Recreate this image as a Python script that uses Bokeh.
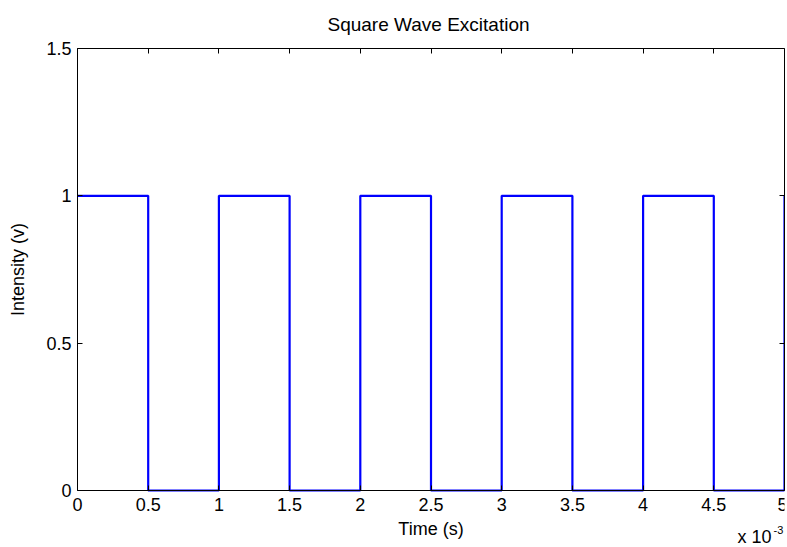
from bokeh.plotting import figure
from bokeh.models import (LinearAxis, FixedTicker, CustomJSTickFormatter, Label, Range1d)
from bokeh.embed import file_html
from bokeh.resources import INLINE

# Data
edge_times_s = [0.0, 0.0005, 0.0010, 0.0015, 0.0020, 0.0025, 0.0030, 0.0035, 0.0040, 0.0045, 0.0050]
intensity_v = [1, 0, 1, 0, 1, 0, 1, 0, 1, 0, 1]
x_ticks = [0.0, 0.0005, 0.0010, 0.0015, 0.0020, 0.0025, 0.0030, 0.0035, 0.0040, 0.0045, 0.0050]
y_ticks = [0, 0.5, 1, 1.5]
title_text = "Square Wave Excitation"
x_label = "Time (s)"
y_label = "Intensity (v)"
x_scale_base = "x 10"
x_scale_power = "-3"

FONT = "Liberation Sans"
FS = "18px"

# layout (pixels)
W, H = 787, 547
FRAME_TOP, RIGHT = 36, 3
AX_TOP = 48                   # pixel row of intensity 1.5
AX_LEFT, AX_RIGHT = 77, 784   # pixel columns of t = 0 and t = 5 ms
ZERO_Y = 490                  # pixel row of intensity 0

x0, x1 = edge_times_s[0], edge_times_s[-1]
px_per_s = (AX_RIGHT - AX_LEFT) / (x1 - x0)
x_start = x0 - AX_LEFT / px_per_s
y0, y1 = y_ticks[0], y_ticks[-1]
px_per_v = (ZERO_Y - AX_TOP) / (y1 - y0)
y_start = y0 - (H - ZERO_Y) / px_per_v
y_end = y1 + (AX_TOP - FRAME_TOP) / px_per_v

p = figure(width=W, height=H, output_backend="svg", toolbar_location=None,
           x_range=Range1d(x_start, x1), y_range=Range1d(y_start, y_end),
           min_border_left=0, min_border_right=RIGHT, min_border_top=FRAME_TOP,
           min_border_bottom=0,
           x_axis_location=None, y_axis_location=None)
p.background_fill_color = "white"
p.border_fill_color = "white"
p.outline_line_color = None
p.grid.visible = False

p.title.text = title_text
p.title.align = "left"
p.title.offset = 327
p.title.text_font = FONT
p.title.text_font_size = "19px"
p.title.text_font_style = "normal"
p.title.text_color = "black"
p.title.standoff = 4

xfmt = CustomJSTickFormatter(code="return String(Math.round(tick*10000)/10);")
yfmt = CustomJSTickFormatter(code="return String(tick);")
blank = CustomJSTickFormatter(code="return '';")

def style(ax):
    ax.axis_line_color = "black"
    ax.axis_line_width = 1
    ax.major_tick_in = 5
    ax.major_tick_out = 0
    ax.minor_tick_line_color = None
    ax.major_tick_line_color = "black"
    ax.major_label_text_font = FONT
    ax.major_label_text_font_size = FS
    ax.major_label_text_color = "black"
    ax.axis_label_text_font = FONT
    ax.axis_label_text_font_size = FS
    ax.axis_label_text_font_style = "normal"
    ax.axis_label_text_color = "black"

xb = LinearAxis(ticker=FixedTicker(ticks=x_ticks), formatter=xfmt, axis_label=x_label,
                fixed_location=y0, bounds=(x0, x1))
style(xb)
xb.major_label_standoff = 7
xb.axis_label_standoff = 5
p.add_layout(xb, "below")

yl = LinearAxis(ticker=FixedTicker(ticks=y_ticks), formatter=yfmt, axis_label=y_label,
                fixed_location=x0, bounds=(y0, y1))
style(yl)
yl.major_label_standoff = 6
yl.axis_label_standoff = 15
p.add_layout(yl, "left")

xt = LinearAxis(ticker=FixedTicker(ticks=x_ticks), formatter=blank,
                fixed_location=y1, bounds=(x0, x1))
style(xt)
xt.major_label_text_font_size = "0px"
xt.major_label_standoff = 0
p.add_layout(xt, "above")

yr = LinearAxis(ticker=FixedTicker(ticks=y_ticks), formatter=blank, bounds=(y0, y1))
style(yr)
yr.major_label_text_font_size = "0px"
yr.major_label_standoff = 0
p.add_layout(yr, "right")

p.step(edge_times_s, intensity_v, mode="after", line_color="#0000FF", line_width=2.2)

exp_base = Label(x=737, y=1, x_units="screen", y_units="screen", text=x_scale_base,
                 text_font=FONT, text_font_size=FS, text_color="black",
                 text_baseline="bottom")
exp_pow = Label(x=773, y=14, x_units="screen", y_units="screen", text=x_scale_power,
                text_font=FONT, text_font_size="11px", text_color="black",
                text_baseline="bottom")
p.add_layout(exp_base)
p.add_layout(exp_pow)

open("out.html", "w").write(file_html(p, INLINE))
